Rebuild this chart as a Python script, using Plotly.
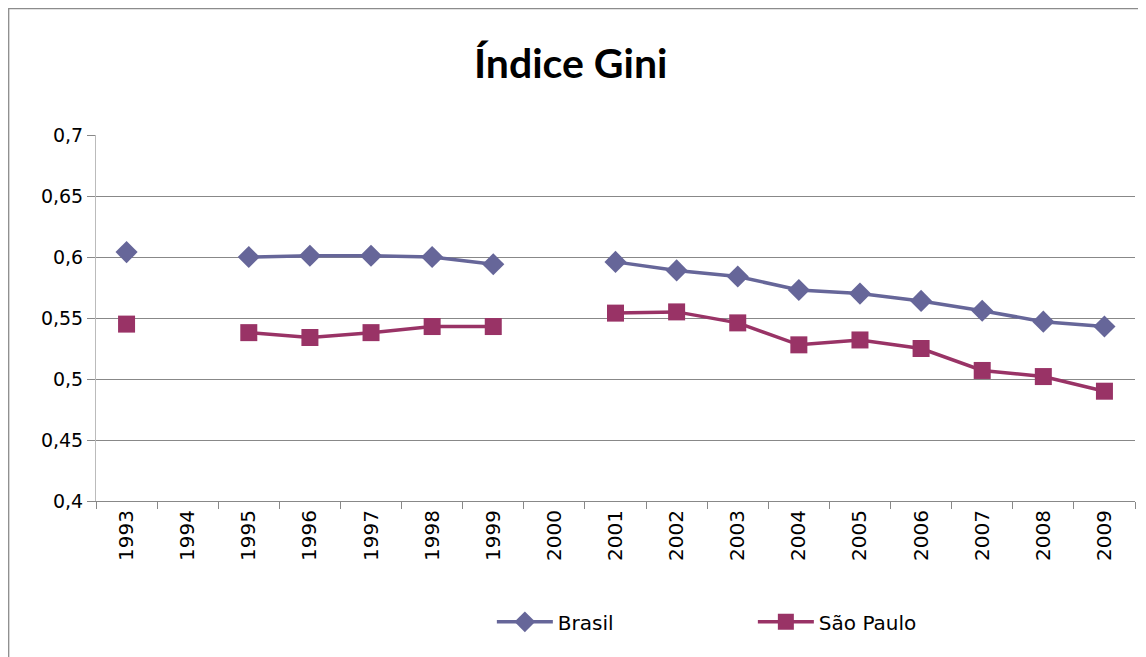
import plotly.graph_objects as go

years = ["1993", "1994", "1995", "1996", "1997", "1998", "1999", "2000", "2001",
         "2002", "2003", "2004", "2005", "2006", "2007", "2008", "2009"]
brasil = [0.604, None, 0.600, 0.601, 0.601, 0.600, 0.594, None, 0.596,
          0.589, 0.584, 0.573, 0.570, 0.564, 0.556, 0.547, 0.543]
sao_paulo = [0.545, None, 0.538, 0.534, 0.538, 0.543, 0.543, None, 0.554,
             0.555, 0.546, 0.528, 0.532, 0.525, 0.507, 0.502, 0.490]

W, H = 1146, 657
L, R, T, B = 88, 19, 127, 164
PW, PH = W - L - R, H - T - B

TICKFONT = "DejaVu Sans"
fig = go.Figure()
fig.add_trace(go.Scatter(
    x=years, y=brasil, name="Brasil", mode="lines+markers", connectgaps=False,
    line=dict(color="#666699", width=3.5),
    marker=dict(symbol="diamond", size=17, color="#666699"),
))
fig.add_trace(go.Scatter(
    x=years, y=sao_paulo, name="São Paulo", mode="lines+markers", connectgaps=False,
    line=dict(color="#993366", width=3.5),
    marker=dict(symbol="square", size=17, color="#993366"),
))

fig.update_layout(
    width=W, height=H,
    margin=dict(l=L, r=R, t=T, b=B),
    paper_bgcolor="white", plot_bgcolor="white",
    separators=",.",
    font=dict(family=TICKFONT, size=19, color="black"),
    title=dict(text="<b>Índice Gini</b>", x=0.491, xref="container", xanchor="center",
               y=1 - 56 / H, yref="container", yanchor="middle",
               font=dict(family="Lato", size=41, color="black")),
    showlegend=True,
    legend=dict(orientation="h", x=0.381, xanchor="left", y=-0.33, yanchor="middle",
                entrywidth=190, entrywidthmode="pixels", itemwidth=56,
                font=dict(family=TICKFONT, size=20, color="black"),
                bgcolor="rgba(0,0,0,0)"),
    xaxis=dict(type="category", range=[-0.5, 16.5], showgrid=False, automargin=False,
               showline=True, linecolor="#888888", linewidth=1,
               ticks="outside", ticklen=7, tickcolor="#888888", tickson="boundaries",
               tickangle=-90, tickfont=dict(family=TICKFONT, size=20, color="black")),
    yaxis=dict(range=[0.4, 0.7], dtick=0.05, tick0=0.4, automargin=False,
               showgrid=True, gridcolor="#888888", gridwidth=1, zeroline=False,
               showline=True, linecolor="#BBBBBB", linewidth=1,
               ticks="outside", ticklen=8, tickcolor="#888888",
               tickfont=dict(family=TICKFONT, size=19, color="black")),
    shapes=[dict(type="rect", xref="paper", yref="paper",
                 x0=(0.7 - L) / PW, x1=(W + 20 - L) / PW,
                 y0=-(B + 20) / PH, y1=1 + (T - 0.7) / PH,
                 line=dict(color="#8c8c8c", width=1.3), fillcolor="rgba(0,0,0,0)",
                 layer="below")],
)

fig.write_html("out.html")
